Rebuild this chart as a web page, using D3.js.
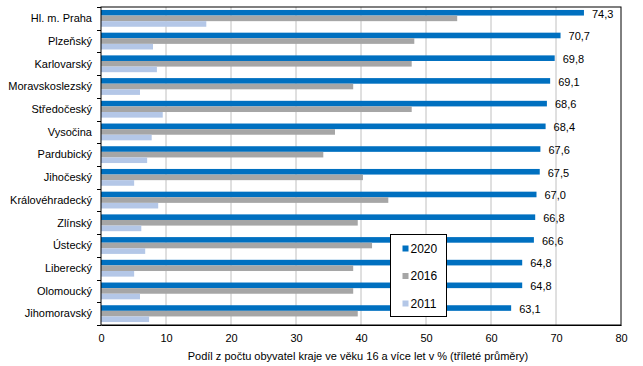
<!DOCTYPE html>
<html>
<head>
<meta charset="utf-8">
<style>
  body { margin: 0; background: #fff; }
  text { font-family: "Liberation Sans", Arial, sans-serif; fill: #000; }
  .tick text { font-size: 11px; }
  .grid line { stroke: #c0c0c0; }
</style>
</head>
<body>
<script src="https://cdn.jsdelivr.net/npm/d3@7"></script>
<script>
// data
const regions = ["Hl. m. Praha", "Plzeňský", "Karlovarský", "Moravskoslezský", "Středočeský",
  "Vysočina", "Pardubický", "Jihočeský", "Královéhradecký", "Zlínský", "Ústecký",
  "Liberecký", "Olomoucký", "Jihomoravský"];
const v2020 = [74.3, 70.7, 69.8, 69.1, 68.6, 68.4, 67.6, 67.5, 67.0, 66.8, 66.6, 64.8, 64.8, 63.1];
const v2016 = [54.8, 48.2, 47.8, 38.8, 47.8, 36.0, 34.2, 40.3, 44.2, 39.5, 41.7, 38.8, 38.8, 39.5];
const v2011 = [16.2, 8.0, 8.6, 6.0, 9.5, 7.8, 7.1, 5.1, 8.8, 6.2, 6.8, 5.1, 6.0, 7.4];
const years = ["2020", "2016", "2011"];
const xTicks = [0, 10, 20, 30, 40, 50, 60, 70, 80];

const colors = { "2020": "#0070c0", "2016": "#a6a6a6", "2011": "#b4c7e7" };
const series = { "2020": v2020, "2016": v2016, "2011": v2011 };

const W = 643, H = 366;
const margin = { top: 7, right: 22, bottom: 41, left: 101 };
const width = W - margin.left - margin.right;
const height = H - margin.top - margin.bottom;

const svg = d3.select("body").append("svg")
  .attr("width", W)
  .attr("height", H);

const g = svg.append("g")
  .attr("transform", `translate(${margin.left},${margin.top})`);

const x = d3.scaleLinear().domain([0, 80]).range([0, width]);
const y = d3.scaleBand().domain(regions).range([0, height]).paddingInner(0.26).paddingOuter(0.13);
const ySub = d3.scaleBand().domain(years).range([0, y.bandwidth()]);

// gridlines
g.append("g").attr("class", "grid")
  .selectAll("line")
  .data(xTicks.slice(1, -1))
  .join("line")
  .attr("x1", d => x(d)).attr("x2", d => x(d))
  .attr("y1", 0).attr("y2", height);

// bars
const rows = g.append("g").selectAll("g")
  .data(regions)
  .join("g")
  .attr("transform", d => `translate(0,${y(d)})`);

years.forEach(yr => {
  rows.append("rect")
    .attr("x", 0)
    .attr("y", ySub(yr))
    .attr("height", ySub.bandwidth())
    .attr("width", (d, i) => x(series[yr][i]))
    .attr("fill", colors[yr]);
});

// value labels for 2020
rows.append("text")
  .attr("x", (d, i) => x(v2020[i]) + 8)
  .attr("y", ySub("2020") + ySub.bandwidth() / 2 + 1)
  .attr("dy", "0.35em")
  .style("font-size", "11px")
  .text((d, i) => d3.format(".1f")(v2020[i]).replace(".", ","));

// frame
g.append("rect")
  .attr("width", width).attr("height", height)
  .attr("fill", "none").attr("stroke", "#000");

// axes
const xAxis = g.append("g")
  .attr("transform", `translate(0,${height})`)
  .call(d3.axisBottom(x).tickValues(xTicks).tickSize(0).tickPadding(9));
xAxis.select(".domain").attr("stroke", "#000");

// category ticks at boundaries
const step = y.step();
g.append("g").selectAll("line")
  .data(d3.range(regions.length + 1))
  .join("line")
  .attr("x1", -4).attr("x2", 0)
  .attr("y1", i => Math.round(i * step) + 0.5)
  .attr("y2", i => Math.round(i * step) + 0.5)
  .attr("stroke", "#000");

g.append("g").selectAll("text")
  .data(regions)
  .join("text")
  .attr("x", -9)
  .attr("y", d => y(d) + y.bandwidth() / 2)
  .attr("dy", "0.35em")
  .attr("text-anchor", "end")
  .style("font-size", "11px")
  .text(d => d);

// axis title
svg.append("text")
  .attr("x", 358)
  .attr("y", 360)
  .attr("text-anchor", "middle")
  .style("font-size", "11px")
  .text("Podíl  z počtu obyvatel kraje ve věku 16 a více let v % (tříleté průměry)");

// legend
const legend = svg.append("g").attr("transform", "translate(390.5,234.5)");
legend.append("rect")
  .attr("width", 56).attr("height", 82)
  .attr("fill", "#fff").attr("stroke", "#000");
years.forEach((yr, i) => {
  const ly = 14 + i * 27.5;
  legend.append("rect")
    .attr("x", 12).attr("y", ly - 3)
    .attr("width", 6).attr("height", 6)
    .attr("fill", colors[yr]);
  legend.append("text")
    .attr("x", 20).attr("y", ly)
    .attr("dy", "0.35em")
    .style("font-size", "12px")
    .text(yr);
});
</script>
</body>
</html>
